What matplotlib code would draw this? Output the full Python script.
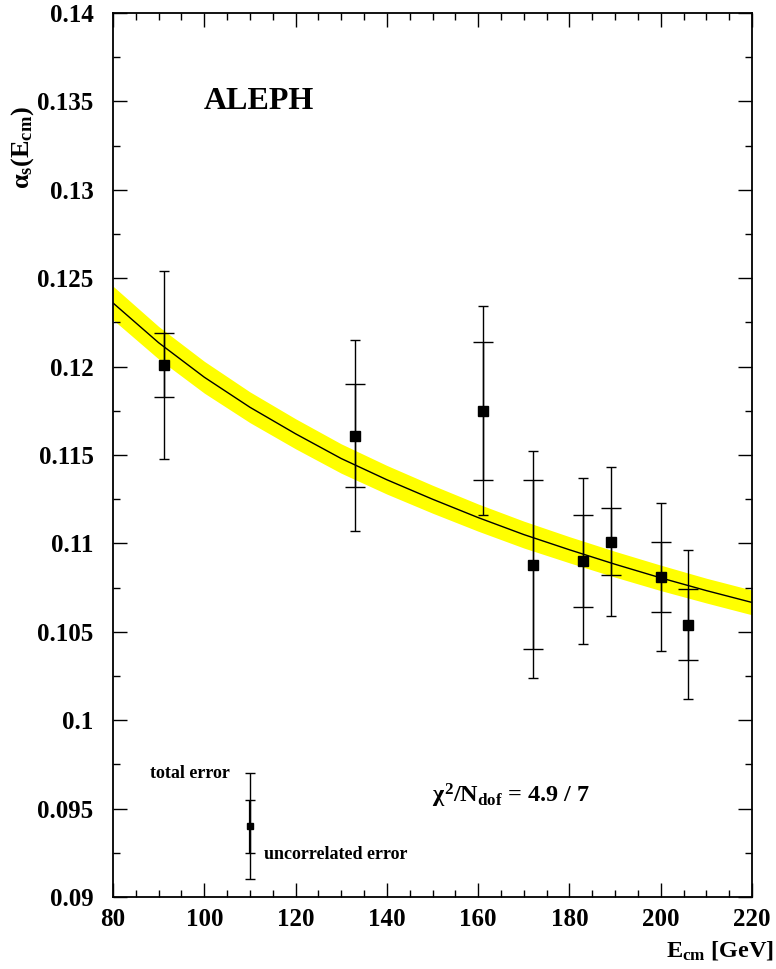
import numpy as np
import matplotlib
matplotlib.use('Agg')
from matplotlib import pyplot as plt
from matplotlib.ticker import MultipleLocator, FuncFormatter

'data read from the figure'
energies = [91.2, 133, 161, 172, 183, 189, 200, 206]
alphas = [0.1201, 0.1161, 0.1175, 0.1088, 0.1090, 0.1101, 0.1081, 0.1054]
err_total = [0.0053, 0.0054, 0.0059, 0.0064, 0.0047, 0.0042, 0.0042, 0.0042]
err_uncorr = [0.0018, 0.0029, 0.0039, 0.0048, 0.0026, 0.0019, 0.0020, 0.0020]

'fitted running curve and its band'
curve_e = [80, 90, 100, 110, 120, 130, 140, 150, 160, 170, 180, 190, 200, 210, 220]
curve_a = [0.1236, 0.12135, 0.1194, 0.1177, 0.1162, 0.1148, 0.1136, 0.1125,
           0.11146, 0.1105, 0.10964, 0.10882, 0.10805, 0.10733, 0.10666]
band_half = [0.00095, 0.00092, 0.0009, 0.00087, 0.00085, 0.00083, 0.00081, 0.00079,
             0.00077, 0.00076, 0.00074, 0.00073, 0.00072, 0.0007, 0.0007]

'legend point'
leg_e = [110]
leg_a = [0.094]
leg_total = [0.003]
leg_uncorr = [0.0015]

plt.rcParams['font.family'] = ['Liberation Serif', 'DejaVu Serif']
plt.rcParams['font.weight'] = 'bold'
plt.rcParams['mathtext.fontset'] = 'custom'
plt.rcParams['mathtext.rm'] = 'Liberation Serif:bold'
plt.rcParams['mathtext.it'] = 'Liberation Serif:bold'
plt.rcParams['mathtext.bf'] = 'Liberation Serif:bold'

fig = plt.figure(figsize=(7.76, 9.69), dpi=100)
ax = fig.add_axes([113/776, 1-897/969, (752-113)/776, (897-13)/969])

lo = np.array(curve_a) - np.array(band_half)
hi = np.array(curve_a) + np.array(band_half)
ax.fill_between(curve_e, lo, hi, color='#ffff00', lw=0, zorder=1)
ax.plot(curve_e, curve_a, color='k', lw=1, zorder=2)

ax.errorbar(energies, alphas, yerr=err_total, fmt='none', ecolor='k',
            elinewidth=1, capsize=3.6, capthick=1, zorder=3)
ax.errorbar(energies, alphas, yerr=err_uncorr, fmt='s', color='k', ms=6.7,
            elinewidth=1, capsize=7.2, capthick=1, zorder=4)

ax.errorbar(leg_e, leg_a, yerr=leg_total, fmt='none', ecolor='k',
            elinewidth=1, capsize=3.6, capthick=1, zorder=3)
ax.errorbar(leg_e, leg_a, yerr=leg_uncorr, fmt='s', color='k', ms=5,
            elinewidth=1.6, capsize=3.6, capthick=1, zorder=4)

ax.set_xlim(80, 220)
ax.set_ylim(0.09, 0.14)
ax.xaxis.set_major_locator(MultipleLocator(20))
ax.xaxis.set_minor_locator(MultipleLocator(5))
ax.yaxis.set_major_locator(MultipleLocator(0.005))
ax.yaxis.set_minor_locator(MultipleLocator(0.0025))
ax.yaxis.set_major_formatter(FuncFormatter(lambda v, p: '%g' % round(v, 4)))
ax.tick_params(which='both', direction='in', top=True, right=True, width=1)
ax.tick_params(which='major', length=10, labelsize=18)
ax.tick_params(axis='y', which='major', pad=14)
ax.tick_params(axis='x', which='major', pad=8)
ax.tick_params(which='minor', length=5)
for s in ax.spines.values():
    s.set_linewidth(1.3)

ax.text(112, 0.135, 'ALEPH', fontsize=23, fontweight='bold', ha='center', va='center')
ax.text(105.6, 0.097, 'total error', fontsize=13, ha='right', va='center')
ax.text(113.1, 0.0924, 'uncorrelated error', fontsize=13, ha='left', va='center')
ax.text(149.9, 0.0957, r'$\chi^{2}/N_{dof}$ = 4.9 / 7', fontsize=17.5, ha='left', va='center')

fig.text(23/776, 1-148/969, r'$\alpha_{s}(E_{cm})$', fontsize=19, rotation=90,
         ha='center', va='center')
fig.text(774/776, 1-956/969, r'$E_{cm}$ [GeV]', fontsize=17.5, ha='right', va='baseline')

fig.savefig('out.png', dpi=100)
